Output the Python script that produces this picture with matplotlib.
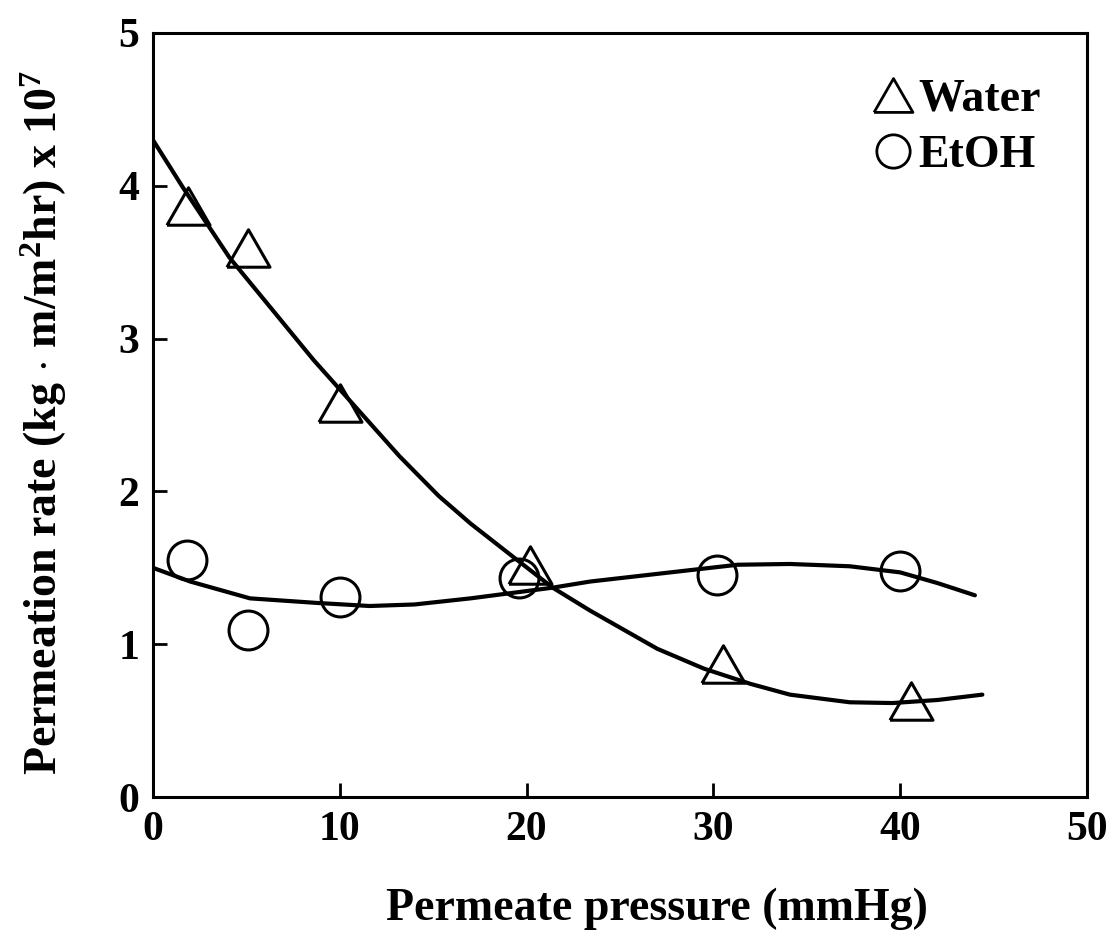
import matplotlib
matplotlib.use("Agg")
import matplotlib.pyplot as plt
from matplotlib.lines import Line2D

# ---- data ----
water_x = [1.9, 5.1, 10.0, 20.2, 30.5, 40.6]
water_y = [3.87, 3.59, 2.58, 1.52, 0.87, 0.63]
etoh_x = [1.8, 5.1, 10.0, 19.6, 30.2, 40.0]
etoh_y = [1.55, 1.09, 1.31, 1.43, 1.45, 1.48]

water_fit_x = [0, 1.6, 4.1, 8.6, 13.2, 15.3, 17.0, 19.3, 21.4, 23.4, 27.0, 29.5, 32.0, 34.1, 37.3, 39.6, 42.0, 44.4]
water_fit_y = [4.30, 3.99, 3.53, 2.86, 2.23, 1.97, 1.79, 1.57, 1.37, 1.22, 0.97, 0.84, 0.74, 0.67, 0.62, 0.615, 0.635, 0.67]
etoh_fit_x = [0, 2.0, 5.2, 8.8, 11.6, 14.0, 17.0, 21.4, 23.4, 27.7, 31.3, 34.1, 37.3, 40.0, 42.0, 44.0]
etoh_fit_y = [1.50, 1.41, 1.30, 1.27, 1.25, 1.26, 1.30, 1.37, 1.41, 1.47, 1.52, 1.525, 1.51, 1.47, 1.40, 1.32]

x_ticks = [0, 10, 20, 30, 40, 50]
y_ticks = [0, 1, 2, 3, 4, 5]
x_label = "Permeate pressure (mmHg)"
y_label = r"Permeation rate (kg $\cdot$ m/m$^{\mathbf{2}}$hr) x 10$^{\mathbf{7}}$"
legend_labels = ["Water", "EtOH"]

plt.rcParams['font.family'] = ['Liberation Serif', 'DejaVu Serif']
plt.rcParams['font.weight'] = 'bold'
plt.rcParams['mathtext.fontset'] = 'custom'
plt.rcParams['mathtext.rm'] = 'Liberation Serif:bold'
plt.rcParams['mathtext.bf'] = 'Liberation Serif:bold'
plt.rcParams['mathtext.default'] = 'bf'

fig = plt.figure(figsize=(11.16, 9.41), dpi=100)
ax = fig.add_axes([0.137, 0.153, 0.837, 0.812])

tri = [(-1.15, -1), (1.15, -1), (0, 1), (-1.15, -1)]

ax.plot(water_fit_x, water_fit_y, color='black', lw=3.0, solid_capstyle='round', zorder=2)
ax.plot(etoh_fit_x, etoh_fit_y, color='black', lw=3.0, solid_capstyle='round', zorder=2)
ax.plot(water_x, water_y, ls='none', marker=tri, ms=31, mfc='none', mec='black', mew=2.2, zorder=3)
ax.plot(etoh_x, etoh_y, ls='none', marker='o', ms=28, mfc='none', mec='black', mew=2.2, zorder=3)

ax.set_xlim(0, 50)
ax.set_ylim(0, 5)
ax.set_xticks(x_ticks)
ax.set_yticks(y_ticks)
ax.tick_params(direction='in', length=10, width=2, labelsize=30, pad=10,
               top=False, right=False)
for s in ax.spines.values():
    s.set_linewidth(2.2)

ax.set_xlabel(x_label, fontsize=33, fontweight='bold')
ax.xaxis.set_label_coords(0.54, -0.118)
ax.set_ylabel(y_label, fontsize=33, fontweight='bold')
ax.yaxis.set_label_coords(-0.09, 0.49)

handles = [
    Line2D([], [], ls='none', marker=tri, ms=28, mfc='none', mec='black', mew=2.0),
    Line2D([], [], ls='none', marker='o', ms=24, mfc='none', mec='black', mew=2.0),
]
ax.legend(handles, legend_labels, loc='upper right', frameon=False,
          handletextpad=-0.1, handlelength=1.3, labelspacing=0.3,
          borderaxespad=0.6, prop={'weight': 'bold', 'size': 33})

fig.savefig("out.png", dpi=100)
